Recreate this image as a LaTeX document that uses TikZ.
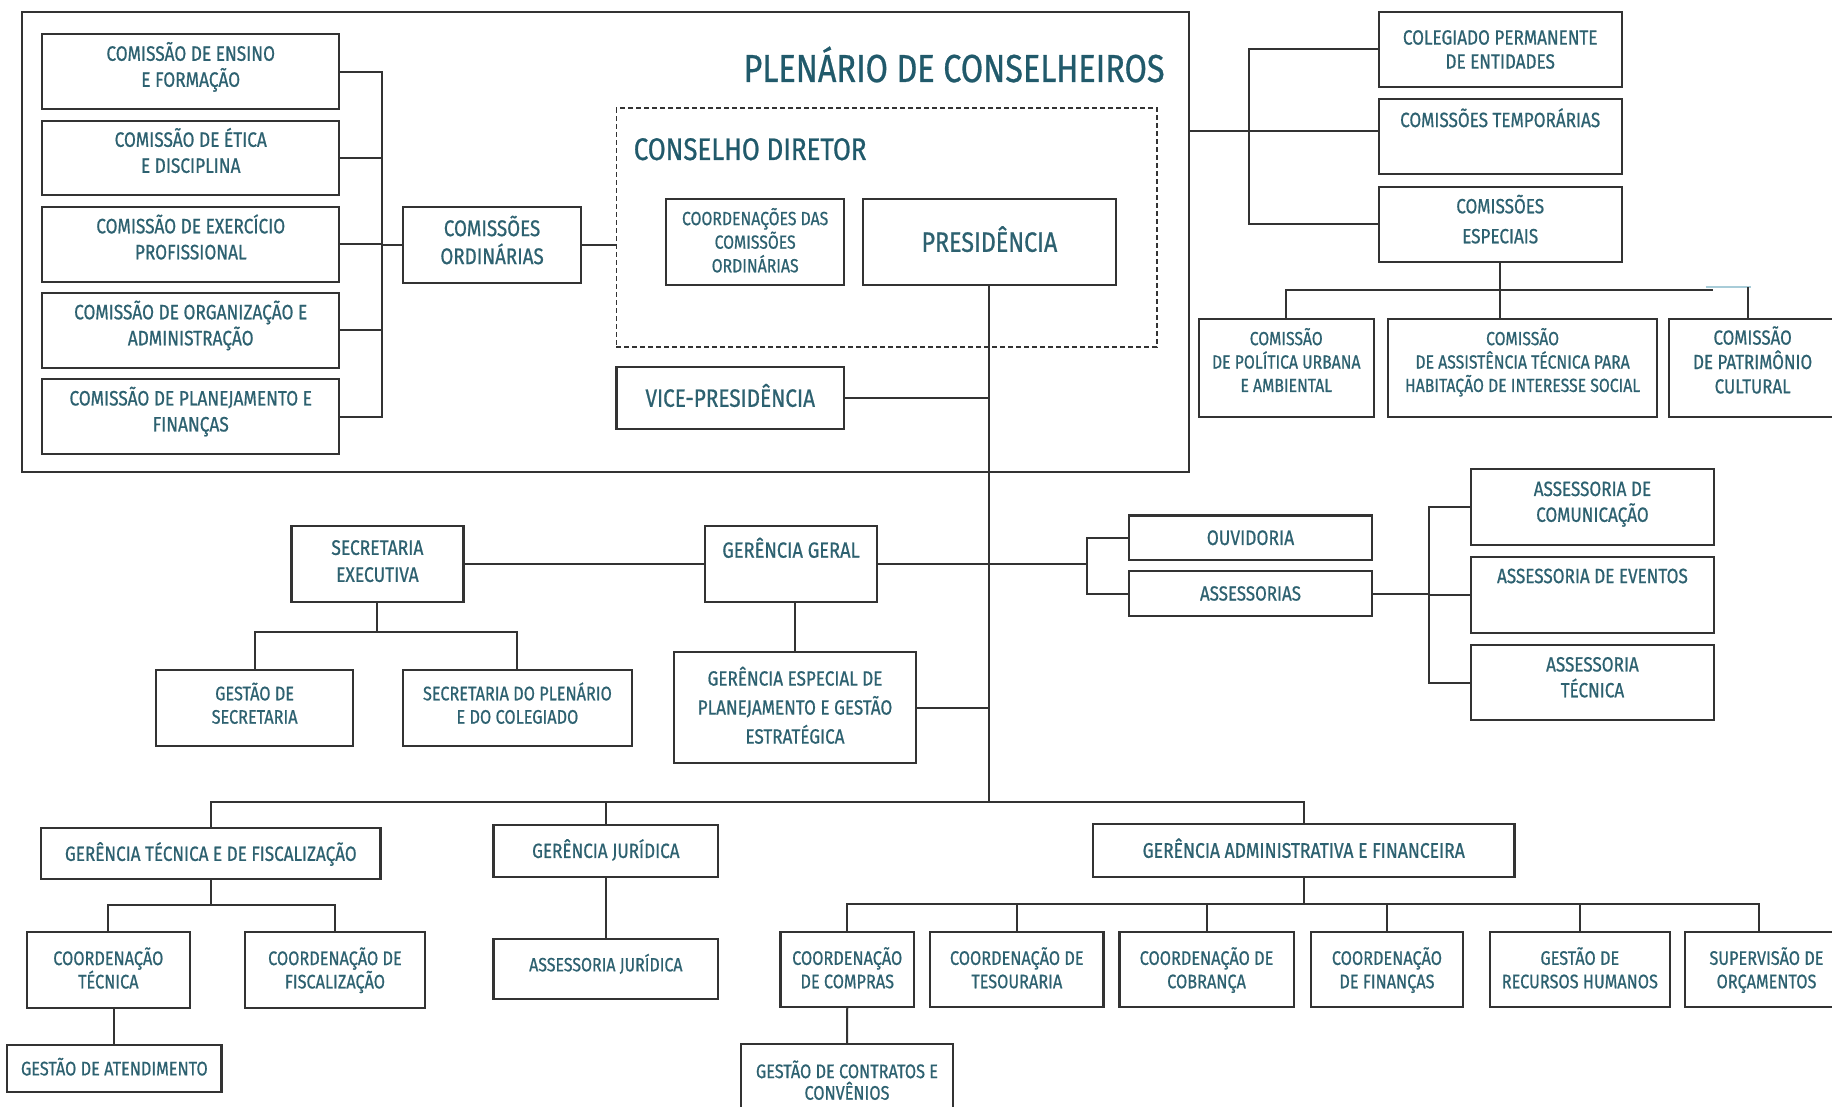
\documentclass[tikz,border=0pt]{standalone}
\usepackage{fontspec}
\setmainfont{Fira Sans}[FakeStretch=0.83,FakeBold=0.7]
\usetikzlibrary{calc}
\definecolor{tx}{HTML}{2D6170}
\definecolor{tt}{HTML}{215A6B}
\definecolor{ln}{HTML}{333333}
\definecolor{lb}{HTML}{A8CCD8}
\makeatletter
\def\smashlines#1{\sm@l#1|\@nil}
\def\sm@l#1|#2\@nil{\smash{#1}\ifx\relax#2\relax\expandafter\@gobble\else\expandafter\@firstofone\fi{\\\sm@l#2\@nil}}
\makeatother
\tikzset{
  bx/.style={draw=ln, line width=1.1pt, fill=white, inner sep=0pt, outer sep=0pt},
  cn/.style={draw=ln, line width=1pt},
  lbl/.style={text=tx, inner sep=0pt, outer sep=0pt, align=center},
  fs/.style 2 args={font=\fontsize{#1}{#2}\selectfont, yshift={-0.3445*#1*1pt}},
  tup/.style={yshift=#1pt},
}
% \bx[box options]{name}{x1}{y1}{x2}{y2}{text options}{lines separated by |}
\newcommand\bx[8][]{%
  \node[bx,minimum width={(#5-#3)*0.5pt},minimum height={(#6-#4)*0.5pt},#1] (#2) at ({(#3+#5)/2},{(#4+#6)/2}) {};
  \node[lbl,#7] (#2t) at (#2.center) {\smashlines{#8}};}
\begin{document}
\begin{tikzpicture}[x=0.5pt,y=-0.5pt]
\useasboundingbox (0,0) rectangle (1832,1107);
\fill[white] (0,0) rectangle (1832,1107);
% ---------- Plenario ----------
\node[bx, fill=none, minimum width={1167.2*0.5pt}, minimum height={459.4*0.5pt}] (plen) at (605.3,242) {};
\node[text=tt, font=\fontsize{19.5}{22}\selectfont, anchor=base east, inner sep=0pt] (titulo) at (1165,82) {PLENÁRIO DE CONSELHEIROS};
\node[bx, fill=none, dash pattern=on 2.5pt off 1.5pt, line width=0.9pt, minimum width={540.9*0.5pt}, minimum height={238.4*0.5pt}] (cdir) at (886.85,227.5) {};
\node[text=tt, font=\fontsize{15.6}{18}\selectfont, anchor=base west, inner sep=0pt] (cdt) at (633.4,160) {CONSELHO DIRETOR};
\bx{c1}{42.3}{34.3}{339.2}{109.3}{fs={10.4}{13},tup=2.6}{COMISSÃO DE ENSINO|E FORMAÇÃO}
\bx{c2}{42.3}{120.7}{339.2}{195}{fs={10.4}{13},tup=2.6}{COMISSÃO DE ÉTICA|E DISCIPLINA}
\bx{c3}{42.3}{207}{339.2}{281.7}{fs={10.4}{13},tup=2.6}{COMISSÃO DE EXERCÍCIO|PROFISSIONAL}
\bx{c4}{42.3}{293}{339.2}{367.7}{fs={10.4}{13},tup=2.6}{COMISSÃO DE ORGANIZAÇÃO E|ADMINISTRAÇÃO}
\bx{c5}{42.3}{379}{339.2}{454}{fs={10.4}{13},tup=2.6}{COMISSÃO DE PLANEJAMENTO E|FINANÇAS}
\bx{co}{402.9}{206.7}{581.2}{282.7}{fs={11.3}{14},tup=1.2}{COMISSÕES|ORDINÁRIAS}
\coordinate (brk) at (381.6,0);
\draw[cn] (c1.east) -- (c1.east -| brk) -- (c5.east -| brk) -- (c5.east);
\foreach \n in {c2,c3,c4} \draw[cn] (\n.east) -- (\n.east -| brk);
\draw[cn] (co.west) -- (co.west -| brk);
\draw[cn] (co.east) -- (co.east -| cdir.west);
\bx{coord}{666.2}{199.3}{844.1}{285}{fs={9.5}{11.8}}{COORDENAÇÕES DAS|COMISSÕES|ORDINÁRIAS}
\bx{pres}{863.1}{199.3}{1115.8}{285}{fs={14}{16}}{PRESIDÊNCIA}
\bx{vice}{616.4}{367.3}{844.1}{429}{fs={12.5}{14}}{VICE-PRESIDÊNCIA}
\coordinate (bar) at (0,801.7);
\draw[cn] (pres.south) -- (pres.south |- bar);
\draw[cn] (vice.east) -- (vice.east -| pres.south);
% ---------- right top ----------
\bx{col}{1378.8}{12.3}{1621.6}{86.7}{fs={10.3}{12}}{COLEGIADO PERMANENTE|DE ENTIDADES}
\bx{temp}{1378.8}{99.3}{1621.6}{174}{fs={10.3}{12},tup=8.35}{COMISSÕES TEMPORÁRIAS}
\bx{esp}{1378.8}{186.7}{1621.6}{261.7}{fs={10.3}{15},tup=1.5}{COMISSÕES|ESPECIAIS}
\coordinate (rb) at (1248.6,0);
\coordinate (pj) at (1188.9,131);
\draw[cn] (pj) -- (pj -| temp.west);
\draw[cn] (col.west) -- (col.west -| rb) -- (esp.west -| rb) -- (esp.west);
\bx{pu}{1198.7}{319.3}{1373.8}{416.7}{fs={9.5}{11.7},tup=3}{COMISSÃO|DE POLÍTICA URBANA|E AMBIENTAL}
\bx{at}{1387.9}{319.3}{1657.3}{416.7}{fs={9.5}{11.7},tup=3}{COMISSÃO|DE ASSISTÊNCIA TÉCNICA PARA|HABITAÇÃO DE INTERESSE SOCIAL}
\bx{pc}{1669.3}{319.3}{1836}{416.7}{fs={10.2}{12.2},tup=3}{COMISSÃO|DE PATRIMÔNIO|CULTURAL}
\coordinate (eb) at (0,290);
\coordinate (ebr) at (1713.3,290);
\coordinate (lb1) at (1705.7,287.3);
\coordinate (lb2) at (1751,287.3);
\coordinate (pcj) at (1747.7,287.3);
\draw[cn] (pu.north) -- (pu.north |- eb) -- (ebr);
\draw[cn] (esp.south) -- (esp.south |- at.north);
\draw[draw=lb, line width=1pt] (lb1) -- (lb2);
\draw[cn] (pcj) -- (pcj |- pc.north);
% ---------- middle ----------
\bx{se}{291.4}{526}{463.4}{602.3}{fs={10.5}{13.5},tup=1.5}{SECRETARIA|EXECUTIVA}
\bx{gg}{705}{526}{877}{602.3}{fs={11}{13},tup=7}{GERÊNCIA GERAL}
\bx{ouv}{1128.9}{515.5}{1372.1}{560}{fs={10.5}{12}}{OUVIDORIA}
\bx{ass}{1128.9}{571}{1372.1}{616}{fs={10.2}{12}}{ASSESSORIAS}
\coordinate (b2) at (1086.6,0);
\coordinate (b3) at (1429,0);
\draw[cn] (se.east) -- (gg.west);
\draw[cn] (gg.east) -- (gg.east -| b2);
\draw[cn] (ouv.west) -- (ouv.west -| b2) -- (ass.west -| b2) -- (ass.west);
\bx{acom}{1470.9}{469}{1714}{545}{fs={10.3}{12.9},tup=2.6}{ASSESSORIA DE|COMUNICAÇÃO}
\bx{aev}{1470.9}{557.3}{1714}{632.7}{fs={10.3}{12.9},tup=9.5}{ASSESSORIA DE EVENTOS}
\bx{atec}{1470.9}{645}{1714}{720}{fs={10.3}{12.9},tup=2.6}{ASSESSORIA|TÉCNICA}
\draw[cn] (ass.east) -- (ass.east -| b3);
\draw[cn] (acom.west) -- (acom.west -| b3) -- (atec.west -| b3) -- (atec.west);
\draw[cn] (aev.west) -- (aev.west -| b3);
\bx{ge}{674.2}{652.3}{915.8}{762.7}{fs={10.3}{14.5}}{GERÊNCIA ESPECIAL DE|PLANEJAMENTO E GESTÃO|ESTRATÉGICA}
\draw[cn] (ge.north) -- (ge.north |- gg.south);
\draw[cn] (ge.east) -- (ge.east -| pres.south);
\bx{gs}{156.2}{670}{353.1}{745.7}{fs={9.8}{11.7},tup=1.3}{GESTÃO DE|SECRETARIA}
\bx{sp}{402.9}{670}{632}{745.7}{fs={9.8}{11.7},tup=1.3}{SECRETARIA DO PLENÁRIO|E DO COLEGIADO}
\coordinate (sb) at (0,632.3);
\draw[cn] (se.south) -- (se.south |- sb);
\draw[cn] (gs.north) -- (gs.north |- sb) -- (sp.north |- sb) -- (sp.north);
% ---------- bottom ----------
\bx{gt}{41.2}{828.3}{380.5}{879.3}{fs={10.3}{13}}{GERÊNCIA TÉCNICA E DE FISCALIZAÇÃO}
\bx{gj}{493.4}{825}{718.3}{876.7}{fs={10.3}{13}}{GERÊNCIA JURÍDICA}
\bx{aj}{493.4}{938.7}{718.3}{998.7}{fs={9.6}{11},tup=2}{ASSESSORIA JURÍDICA}
\bx{ga}{1093.1}{824.3}{1514.4}{876.7}{fs={10.55}{13}}{GERÊNCIA ADMINISTRATIVA E FINANCEIRA}
\draw[cn] (gt.north) -- (gt.north |- bar) -- (ga.north |- bar) -- (ga.north);
\draw[cn] (gj.north) -- (gj.north |- bar);
\draw[cn] (gj.south) -- (aj.north);
\bx{ct}{26.7}{932.3}{190}{1007.7}{fs={9.8}{11.7}}{COORDENAÇÃO|TÉCNICA}
\bx{cf}{244.8}{932.3}{425.1}{1007.7}{fs={9.8}{11.7}}{COORDENAÇÃO DE|FISCALIZAÇÃO}
\bx{gat}{7.3}{1045}{221.5}{1092.3}{fs={9.8}{12}}{GESTÃO DE ATENDIMENTO}
\coordinate (tb) at (0,905);
\draw[cn] (gt.south) -- (gt.south |- tb);
\draw[cn] (ct.north) -- (ct.north |- tb) -- (cf.north |- tb) -- (cf.north);
\draw[cn] (gat.north) -- (gat.north |- ct.south);
\bx{cc}{780.4}{932.3}{914.1}{1007.3}{fs={9.8}{11.7}}{COORDENAÇÃO|DE COMPRAS}
\bx{cte}{930.1}{932.3}{1103.5}{1007.3}{fs={9.8}{11.7}}{COORDENAÇÃO DE|TESOURARIA}
\bx{ccb}{1119.5}{932.3}{1293.6}{1007.3}{fs={9.8}{11.7}}{COORDENAÇÃO DE|COBRANÇA}
\bx{cfi}{1311}{932.3}{1462.9}{1007.3}{fs={9.8}{11.7}}{COORDENAÇÃO|DE FINANÇAS}
\bx{rh}{1490}{932.3}{1669.7}{1007.3}{fs={9.8}{11.7}}{GESTÃO DE|RECURSOS HUMANOS}
\bx{orc}{1685}{932.3}{1848}{1007.3}{fs={9.8}{11.7}}{SUPERVISÃO DE|ORÇAMENTOS}
\bx{gc}{740.7}{1044.3}{953.3}{1120}{fs={9.8}{10.8}}{GESTÃO DE CONTRATOS E|CONVÊNIOS}
\coordinate (ab) at (0,904.3);
\coordinate (orcj) at (1758.6,932.3);
\draw[cn] (ga.south) -- (ga.south |- ab);
\draw[cn] (cc.north) -- (cc.north |- ab) -- (orcj |- ab) -- (orcj);
\foreach \n in {cte,ccb,cfi,rh} \draw[cn] (\n.north) -- (\n.north |- ab);
\draw[cn] (cc.south) -- (gc.north);
\end{tikzpicture}
\end{document}
